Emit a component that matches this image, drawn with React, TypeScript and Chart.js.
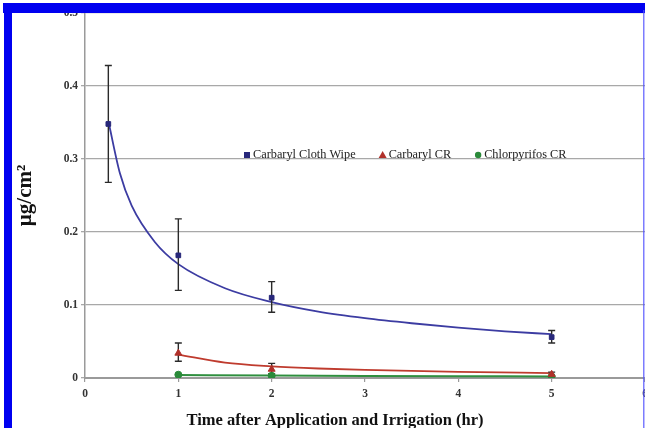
import React, { useEffect, useRef } from 'react';
import { Chart, registerables } from 'chart.js';

Chart.register(...registerables);

// ---- data ----
const seriesNames = ['Carbaryl Cloth Wipe', 'Carbaryl CR', 'Chlorpyrifos CR'];
const xTitle = 'Time after Application and Irrigation (hr)';
const yTitle = 'µg/cm²';
const xTicks = [0, 1, 2, 3, 4, 5, 6];
const yTicks = [0, 0.1, 0.2, 0.3, 0.4, 0.5];

const wipeX = [0.25, 1, 2, 5];
const wipeY = [0.348, 0.168, 0.11, 0.056];
const wipeLow = [0.268, 0.12, 0.09, 0.048];
const wipeHigh = [0.428, 0.218, 0.132, 0.065];

const carbX = [1, 2, 5];
const carbY = [0.034, 0.012, 0.005];
const carbLow = [0.023, 0.006, 0.003];
const carbHigh = [0.048, 0.02, 0.008];

const chlorX = [1, 2, 5];
const chlorY = [0.0045, 0.003, 0.002];

// trend-line points
const wipeFitX = [0.25, 0.375, 0.5, 0.75, 1, 1.5, 2, 2.5, 3, 3.5, 4, 4.5, 5];
const wipeFitY = [0.352, 0.28, 0.236, 0.186, 0.156, 0.123, 0.104, 0.091, 0.082, 0.075, 0.069, 0.064, 0.06];
const carbFitX = [1, 1.5, 2, 2.5, 3, 4, 5];
const carbFitY = [0.032, 0.021, 0.016, 0.013, 0.011, 0.0085, 0.0068];
const chlorFitX = [1, 2, 3, 4, 5];
const chlorFitY = [0.0042, 0.0034, 0.0028, 0.0024, 0.0021];

const colors = {
  wipe: '#27277a',
  wipeLine: '#3c3ca2',
  carb: '#b0302a',
  carbLine: '#bf3b2e',
  chlor: '#2a8a3a',
  chlorLine: '#2f8f3f',
};

const pts = (xs: number[], ys: number[]) => xs.map((x, i) => ({ x, y: ys[i] }));

const SERIF = '"Liberation Serif", "Times New Roman", serif';

const errorBarPlugin = {
  id: 'errorBars',
  afterDatasetDraw(chart: any, args: any) {
    if (args.index !== 3) return;
    const { ctx, scales } = chart;
    ctx.save();
    ctx.strokeStyle = '#2a2a2a';
    ctx.lineWidth = 1.4;
    chart.data.datasets.forEach((ds: any) => {
      if (!ds.errLow) return;
      ds.data.forEach((p: any, i: number) => {
        const px = scales.x.getPixelForValue(p.x);
        const lo = scales.y.getPixelForValue(ds.errLow[i]);
        const hi = scales.y.getPixelForValue(ds.errHigh[i]);
        ctx.beginPath();
        ctx.moveTo(px, lo);
        ctx.lineTo(px, hi);
        ctx.moveTo(px - 3.5, lo);
        ctx.lineTo(px + 3.5, lo);
        ctx.moveTo(px - 3.5, hi);
        ctx.lineTo(px + 3.5, hi);
        ctx.stroke();
      });
    });
    ctx.restore();
  },
};

const legendPlugin = {
  id: 'inlineLegend',
  afterDraw(chart: any) {
    const { ctx } = chart;
    ctx.save();
    ctx.font = `12.3px ${SERIF}`;
    ctx.textBaseline = 'middle';
    const y = 155;
    let x = 247;
    chart.data.datasets.slice(0, 3).forEach((ds: any) => {
      ctx.fillStyle = ds.backgroundColor;
      if (ds.pointStyle === 'rect') {
        ctx.fillRect(x - 3, y - 3, 6, 6);
      } else if (ds.pointStyle === 'triangle') {
        ctx.beginPath();
        ctx.moveTo(x, y - 4);
        ctx.lineTo(x + 4, y + 3);
        ctx.lineTo(x - 4, y + 3);
        ctx.closePath();
        ctx.fill();
      } else {
        ctx.beginPath();
        ctx.arc(x, y, 3.2, 0, Math.PI * 2);
        ctx.fill();
      }
      ctx.fillStyle = '#222';
      ctx.fillText(ds.label, x + 6, y);
      x = x + 6 + ctx.measureText(ds.label).width + 27;
    });
    ctx.restore();
  },
};

const xTitlePlugin = {
  id: 'xTitle',
  afterDraw(chart: any) {
    const { ctx } = chart;
    ctx.save();
    ctx.font = `bold 16.5px ${SERIF}`;
    ctx.fillStyle = '#111';
    ctx.textAlign = 'center';
    ctx.textBaseline = 'middle';
    ctx.fillText(xTitle, 335, 421);
    ctx.restore();
  },
};

const framePlugin = {
  id: 'frame',
  afterDraw(chart: any) {
    const { ctx } = chart;
    ctx.save();
    ctx.fillStyle = '#0000f0';
    ctx.fillRect(3, 3, 645, 10);
    ctx.fillRect(4, 3, 8, 430);
    ctx.fillStyle = 'rgba(80,80,255,0.75)';
    ctx.fillRect(643, 10, 1.5, 420);
    ctx.restore();
  },
};

export default function App() {
  const ref = useRef<HTMLCanvasElement>(null);
  useEffect(() => {
    const canvas = ref.current!;
    const chart = new Chart(canvas, {
      type: 'scatter',
      data: {
        datasets: [
          {
            label: seriesNames[0],
            data: pts(wipeX, wipeY),
            backgroundColor: colors.wipe,
            borderColor: colors.wipe,
            pointStyle: 'rect',
            pointRadius: 3.3,
            errLow: wipeLow,
            errHigh: wipeHigh,
          } as any,
          {
            label: seriesNames[1],
            data: pts(carbX, carbY),
            backgroundColor: colors.carb,
            borderColor: colors.carb,
            pointStyle: 'triangle',
            pointRadius: 4,
            errLow: carbLow,
            errHigh: carbHigh,
          } as any,
          {
            label: seriesNames[2],
            data: pts(chlorX, chlorY),
            backgroundColor: colors.chlor,
            borderColor: colors.chlor,
            pointStyle: 'circle',
            pointRadius: 3.5,
          } as any,
          {
            type: 'line',
            label: 'wipe fit',
            data: pts(wipeFitX, wipeFitY),
            borderColor: colors.wipeLine,
            borderWidth: 1.8,
            pointRadius: 0,
            cubicInterpolationMode: 'monotone',
            fill: false,
          } as any,
          {
            type: 'line',
            label: 'carb fit',
            data: pts(carbFitX, carbFitY),
            borderColor: colors.carbLine,
            borderWidth: 1.8,
            pointRadius: 0,
            cubicInterpolationMode: 'monotone',
            fill: false,
          } as any,
          {
            type: 'line',
            label: 'chlor fit',
            data: pts(chlorFitX, chlorFitY),
            borderColor: colors.chlorLine,
            borderWidth: 2,
            pointRadius: 0,
            cubicInterpolationMode: 'monotone',
            fill: false,
          } as any,
        ],
      },
      options: {
        responsive: false,
        animation: false,
        devicePixelRatio: 1,
        layout: { padding: { left: 13, top: 13, right: 35, bottom: 0 } },
        plugins: { legend: { display: false }, tooltip: { enabled: false } },
        scales: {
          x: {
            type: 'linear',
            min: xTicks[0],
            max: xTicks[xTicks.length - 1],
            afterBuildTicks: (s: any) => { s.ticks = xTicks.map((v) => ({ value: v })); },
            afterFit: (s: any) => { s.height = 52; },
            grid: { drawOnChartArea: false, tickLength: 4, color: '#9a9a9a', lineWidth: 1.2 },
            border: { color: '#9a9a9a', width: 2 },
            ticks: {
              color: '#333',
              padding: 5,
              font: { family: SERIF, size: 11.5, weight: 'bold' },
              maxRotation: 0,
            },
            title: { display: false },
          },
          y: {
            type: 'linear',
            min: yTicks[0],
            max: yTicks[yTicks.length - 1],
            afterBuildTicks: (s: any) => { s.ticks = yTicks.map((v) => ({ value: v })); },
            afterFit: (s: any) => { s.width = 72; },
            grid: { color: '#a8a8a8', lineWidth: 1.3, tickLength: 4 },
            border: { color: '#9a9a9a', width: 1.5 },
            ticks: {
              color: '#333',
              padding: 3,
              font: { family: SERIF, size: 11.5, weight: 'bold' },
              callback: (v: any) => (Number(v) === 0 ? '0' : Number(v).toFixed(1)),
            },
            title: {
              display: true,
              text: yTitle,
              color: '#111',
              padding: 0,
              font: { family: SERIF, size: 21, weight: 'bold' },
            },
          },
        },
      },
      plugins: [errorBarPlugin, legendPlugin, xTitlePlugin, framePlugin],
    } as any);
    return () => chart.destroy();
  }, []);

  return (
    <div
      style={{
        position: 'fixed',
        left: 0,
        top: 0,
        width: 645,
        height: 428,
        overflow: 'hidden',
        background: '#fff',
      }}
    >
      <canvas ref={ref} width={680} height={430} style={{ display: 'block' }} />
    </div>
  );
}
